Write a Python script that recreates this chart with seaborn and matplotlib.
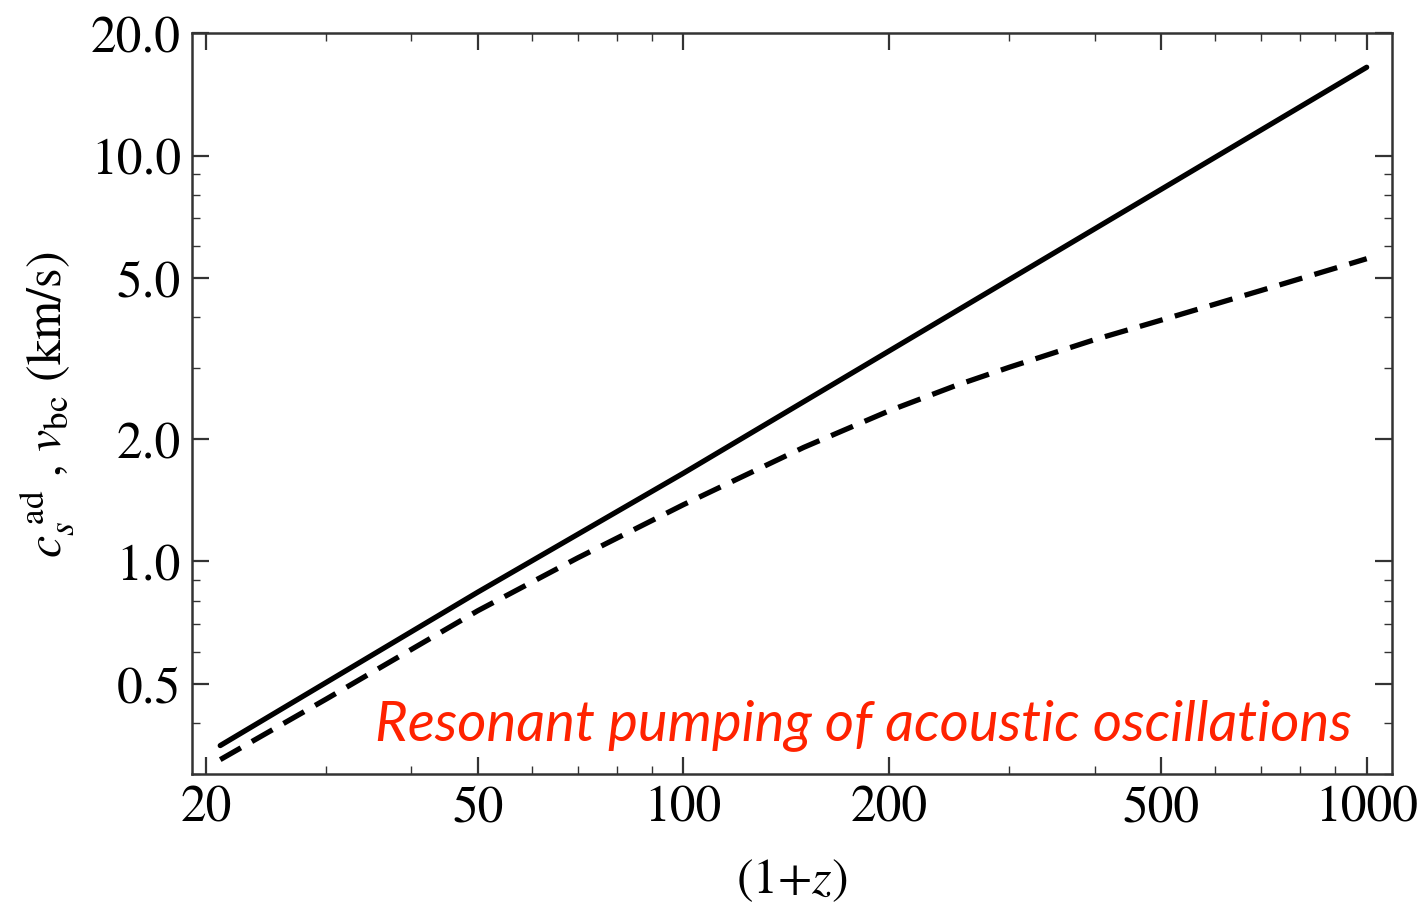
import numpy as np
import pandas as pd
import matplotlib
matplotlib.use("Agg")
import matplotlib.pyplot as plt
import matplotlib.ticker as mticker
import seaborn as sns

# Data
z1_solid = [21, 50, 100, 200, 500, 1000]
v_solid = [0.352, 0.84, 1.65, 3.3, 8.25, 16.5]

z1_dash = [21, 30, 50, 70, 100, 150, 200, 250, 300, 400, 500, 700, 1000]
v_dash = [0.325, 0.458, 0.756, 1.02, 1.38, 1.91, 2.35, 2.71, 3.01, 3.52, 3.93,
          4.65, 5.57]

x_major = [20, 50, 100, 200, 500, 1000]
x_major_labels = ["20", "50", "100", "200", "500", "1000"]
y_major = [0.5, 1.0, 2.0, 5.0, 10.0, 20.0]
y_major_labels = ["0.5", "1.0", "2.0", "5.0", "10.0", "20.0"]
x_minor = [30, 40, 60, 70, 80, 90, 300, 400, 600, 700, 800, 900]
y_minor = [0.3, 0.4, 0.6, 0.7, 0.8, 0.9, 3, 4, 6, 7, 8, 9]

annot = "Resonant pumping of acoustic oscillations"

sns.set_style("ticks")
plt.rcParams["font.family"] = ["STIXGeneral", "Liberation Serif", "DejaVu Serif"]
plt.rcParams["mathtext.fontset"] = "stix"

fig = plt.figure(figsize=(14.23, 9.04), dpi=100)
ax = fig.add_axes([0.135, 0.143, 0.843, 0.819])

df_s = pd.DataFrame({"z": z1_solid, "v": v_solid})
df_d = pd.DataFrame({"z": z1_dash, "v": v_dash})
sns.lineplot(data=df_s, x="z", y="v", ax=ax, color="black", lw=3.8)
sns.lineplot(data=df_d, x="z", y="v", ax=ax, color="black", lw=3.8,
             linestyle=(0, (4.5, 2.4)))

ax.set_xscale("log")
ax.set_yscale("log")
ax.set_xlim(19.1, 1088)
ax.set_ylim(0.30, 20.0)

ax.xaxis.set_major_locator(mticker.FixedLocator(x_major))
ax.xaxis.set_major_formatter(mticker.FixedFormatter(x_major_labels))
ax.xaxis.set_minor_locator(mticker.FixedLocator(x_minor))
ax.xaxis.set_minor_formatter(mticker.NullFormatter())
ax.yaxis.set_major_locator(mticker.FixedLocator(y_major))
ax.yaxis.set_major_formatter(mticker.FixedFormatter(y_major_labels))
ax.yaxis.set_minor_locator(mticker.FixedLocator(y_minor))
ax.yaxis.set_minor_formatter(mticker.NullFormatter())

ax.tick_params(which="both", direction="in", top=True, right=True,
               color="#333333", labelcolor="black")
ax.tick_params(which="major", length=12, width=1.6, labelsize=37, pad=8)
ax.tick_params(which="minor", length=6, width=1.0)
for s in ax.spines.values():
    s.set_linewidth(1.8)
    s.set_color("#333333")

ax.set_xlabel(r"(1+$z$)", fontsize=36, labelpad=18, color="black")
ax.set_ylabel(r"$c_s^{\ \mathrm{ad}}$ , $v_{\mathrm{bc}}$ (km/s)", fontsize=36,
              labelpad=10, color="black")

ax.text(0.967, 0.047, annot, transform=ax.transAxes, ha="right",
        va="baseline", color="#ff2200", fontsize=40.5, fontstyle="italic",
        family=["Lato", "DejaVu Sans"])

fig.savefig("out.png", dpi=100, facecolor="white")
